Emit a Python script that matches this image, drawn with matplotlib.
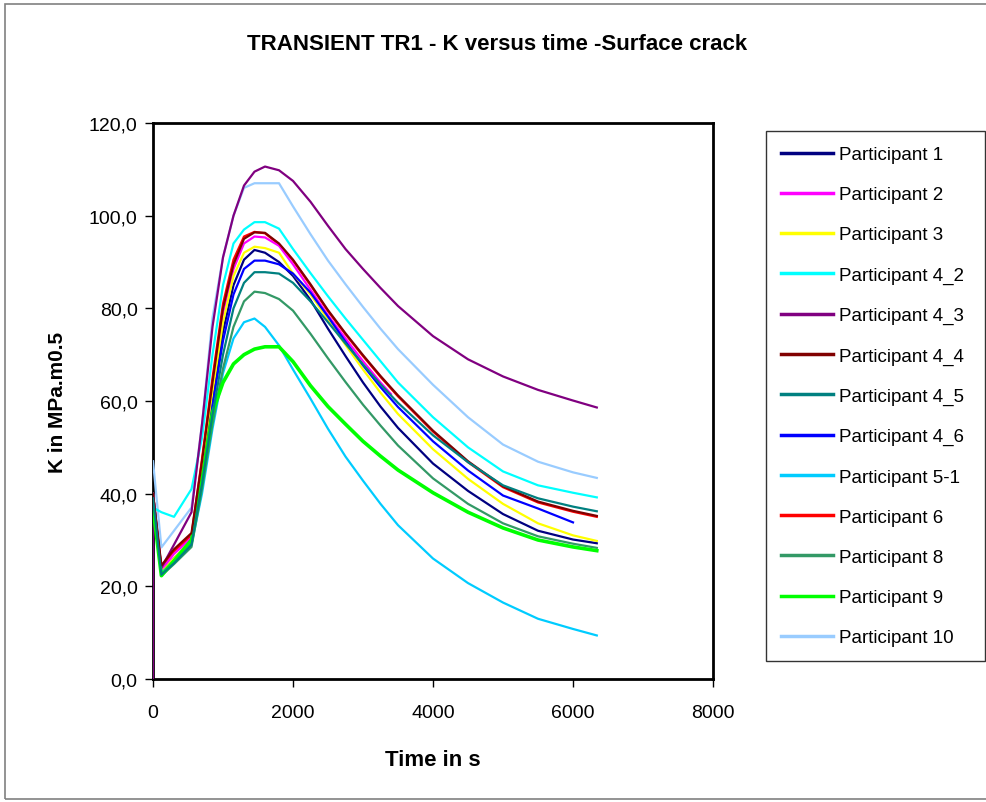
import matplotlib
matplotlib.use("Agg")
import matplotlib.pyplot as plt
from matplotlib.patches import Rectangle
from matplotlib.ticker import FuncFormatter, MultipleLocator

plt.rcParams['font.family'] = ['Liberation Sans', 'DejaVu Sans']

# ---- data (time in s, K in MPa.m0.5) ----
t_common = [0, 120, 300, 550, 700, 850, 1000, 1150, 1300, 1450, 1600, 1800, 2000,
            2250, 2500, 2750, 3000, 3250, 3500, 4000, 4500, 5000, 5500, 6000, 6340]

k_p1 = [40, 23, 26, 30, 44, 60, 75, 85, 90.5, 92.6, 92, 90, 87,
        81.8, 75.6, 69.7, 64.0, 58.8, 54.2, 46.5, 40.6, 35.6, 32.0, 30.1, 29.3]
k_p3 = [40, 23, 26, 30, 45, 62, 77, 87, 92, 93.3, 93, 92, 87.5,
        83, 77.6, 72.1, 66.8, 61.8, 57.2, 49.6, 43.2, 37.8, 33.6, 31.0, 29.8]
k_p4_2 = [37, 36, 35, 41, 52, 70, 85, 94, 97, 98.6, 98.6, 97.2, 92.8,
          87.6, 82.6, 77.8, 73.2, 68.6, 64.0, 56.5, 50.0, 44.8, 41.8, 40.2, 39.2]
k_p4_4 = [40, 24.5, 28, 31.5, 47, 64, 80, 89.5, 95, 96.4, 96.3, 94, 90.5,
          85.2, 79.6, 74.6, 69.9, 65.4, 61.2, 53.6, 47.0, 41.6, 38.3, 36.3, 35.2]
k_p4_5 = [39, 22.5, 25, 29, 42, 57, 70, 80, 85.5, 87.8, 87.8, 87.5, 85.5,
          81.5, 77, 72.4, 67.9, 63.6, 59.6, 52.6, 46.8, 41.8, 39.0, 37.2, 36.2]
k_p6 = [40, 24, 27.5, 31, 47.5, 65, 81, 90.5, 95.5, 96.5, 96.2, 93.8, 90.3,
        85, 79.4, 74.4, 69.7, 65.2, 61.0, 53.4, 46.8, 41.4, 38.1, 36.1, 35.0]
k_p8 = [38, 22.3, 24.8, 28.5, 41, 55, 67, 76, 81.5, 83.6, 83.3, 82, 79.5,
        74.5, 69.2, 64.1, 59.2, 54.7, 50.4, 43.3, 37.8, 33.6, 30.8, 29.2, 28.3]
k_p9 = [37, 22.3, 25.5, 30, 43, 57.5, 64, 68, 70, 71.2, 71.7, 71.7, 68.5,
        63.3, 58.8, 55, 51.3, 48.1, 45.1, 40.2, 36.0, 32.6, 30.0, 28.5, 27.7]
k_p10 = [47, 28.4, 32, 37, 55, 78, 91, 100, 106, 107, 107, 107, 102,
         96, 90.3, 85.2, 80.3, 75.6, 71.2, 63.5, 56.5, 50.6, 46.9, 44.6, 43.4]
k_p5_1 = [38, 23, 25, 29, 40, 54, 66, 73.5, 77, 77.8, 76, 72, 66.8,
          60.5, 54, 48, 42.8, 37.8, 33.2, 26, 20.7, 16.5, 13.0, 10.8, 9.4]

t_p2 = [0, 120, 300, 550, 700, 850, 1000, 1150, 1300, 1450, 1600, 1800, 2000,
        2250, 2500, 2750, 3000, 3250, 3400]
k_p2 = [40, 23.5, 27, 30.5, 46, 63, 79, 88.5, 94, 95.5, 95.3, 93.5, 89.5,
        84, 78.5, 73.5, 68.6, 64.0, 61.5]

t_p4_3 = [0, 0, 120, 300, 550, 700, 850, 1000, 1150, 1300, 1450, 1600, 1800, 2000,
          2250, 2500, 2750, 3000, 3250, 3500, 4000, 4500, 5000, 5500, 6000, 6340]
k_p4_3 = [0, 39, 24, 29, 36, 55, 76, 91, 100, 106.5, 109.5, 110.6, 109.8, 107.5,
          103, 97.8, 92.8, 88.5, 84.4, 80.5, 74.0, 69.0, 65.3, 62.4, 60.1, 58.6]

t_p4_6 = [0, 120, 300, 550, 700, 850, 1000, 1150, 1300, 1450, 1600, 1800, 2000,
          2250, 2500, 2750, 3000, 3250, 3500, 4000, 4500, 5000, 5500, 6000]
k_p4_6 = [40, 22.8, 25.5, 29.5, 43, 59, 73, 83, 88.5, 90.3, 90.3, 89.5, 87.5,
          83.4, 78.2, 72.8, 67.7, 63, 58.7, 51.3, 45, 39.6, 36.8, 33.8]

labels = ["Participant 1", "Participant 2", "Participant 3", "Participant 4_2",
          "Participant 4_3", "Participant 4_4", "Participant 4_5", "Participant 4_6",
          "Participant 5-1", "Participant 6", "Participant 8", "Participant 9",
          "Participant 10"]
colors = ["#000080", "#FF00FF", "#FFFF00", "#00FFFF", "#800080", "#800000",
          "#008080", "#0000FF", "#00CCFF", "#FF0000", "#339966", "#00FF00", "#99CCFF"]

series = [
    (t_common, k_p1), (t_p2, k_p2), (t_common, k_p3), (t_common, k_p4_2),
    (t_p4_3, k_p4_3), (t_common, k_p4_4), (t_common, k_p4_5), (t_p4_6, k_p4_6),
    (t_common, k_p5_1), (t_common, k_p6), (t_common, k_p8), (t_common, k_p9),
    (t_common, k_p10),
]
zorders = [3, 3, 3, 3, 3, 4, 4, 3, 3, 2.5, 3, 3, 2.8]

fig = plt.figure(figsize=(9.87, 8.03), dpi=100)
fig.patch.set_facecolor("white")
ax = fig.add_axes([153/987, 1-680/803, (713-153)/987, (680-124)/803])

handles = []
for (tx, ky), lab, col, z in zip(series, labels, colors, zorders):
    lw = 2.6 if lab == "Participant 9" else 1.6
    h, = ax.plot(tx, ky, color=col, lw=lw, label=lab, zorder=z,
                 solid_joinstyle='round')
    handles.append(h)

ax.set_xlim(0, 8000)
ax.set_ylim(0, 120)
ax.xaxis.set_major_locator(MultipleLocator(2000))
ax.yaxis.set_major_locator(MultipleLocator(20))
ax.yaxis.set_major_formatter(FuncFormatter(lambda v, p: f"{v:.1f}".replace(".", ",")))
ax.tick_params(axis='both', direction='out', length=6, width=1, labelsize=14)
ax.tick_params(axis='x', pad=12)
ax.tick_params(axis='y', pad=5)
for s in ax.spines.values():
    s.set_linewidth(2)
    s.set_color("black")

ax.set_xlabel("Time in s", fontsize=16, fontweight='bold', labelpad=20)
ax.set_ylabel("K in MPa.m0.5", fontsize=15, fontweight='bold', labelpad=16)

fig.text(497/987, 1-45/803, "TRANSIENT TR1 - K versus time -Surface crack",
         ha='center', va='center', fontsize=16, fontweight='bold')

leg = fig.legend(handles=handles, loc='upper left',
                 bbox_to_anchor=(766/987, 1-662/803, 219/987, (662-132)/803),
                 bbox_transform=fig.transFigure, mode='expand',
                 fontsize=13.5, frameon=True, fancybox=False, edgecolor='black',
                 handlelength=2.8, handletextpad=0.3, labelspacing=1.23,
                 borderpad=0.8, borderaxespad=0)
leg.get_frame().set_linewidth(1.0)
for line in leg.get_lines():
    line.set_linewidth(2.5)

fig.patches.append(Rectangle((5/987, 3/803), 1.05, 1-8/803, transform=fig.transFigure,
                             fill=False, edgecolor='#808080', lw=1.2))

fig.savefig("out.png", dpi=100)
